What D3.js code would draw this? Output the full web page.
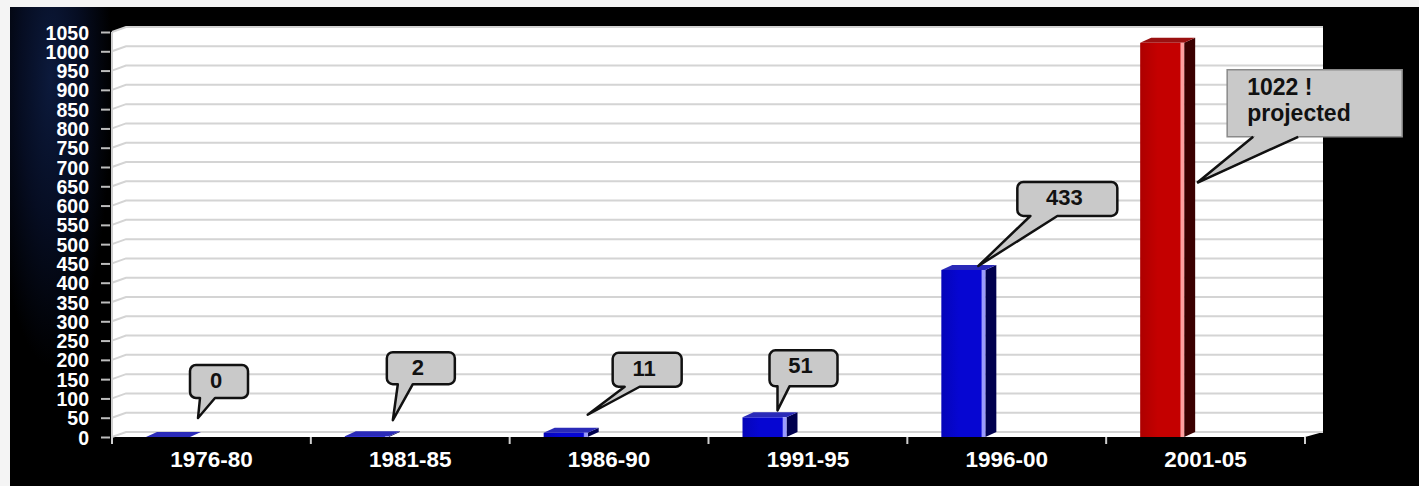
<!DOCTYPE html>
<html><head><meta charset="utf-8">
<script src="https://cdn.jsdelivr.net/npm/d3@7/dist/d3.min.js"></script>
<style>html,body{margin:0;padding:0;background:#000;}svg{display:block;}</style>
</head><body>
<svg id="chart" width="1419" height="486"></svg>
<script>
// ---- data ----
const categories = ["1976-80","1981-85","1986-90","1991-95","1996-00","2001-05"];
const values = [0, 2, 11, 51, 433, 1022];
const kinds = ["actual","actual","actual","actual","actual","projected"];
const yTickValues = [0,50,100,150,200,250,300,350,400,450,500,550,600,650,700,750,800,850,900,950,1000,1050];
const calloutTexts = [["0"],["2"],["11"],["51"],["433"],["1022 !","projected"]];

// ---- layout (annotation placement relative to each bar top) ----
const calloutLayout = [
  {tip:[30,-19],  box:[-8,-53,58,33],   tail:[10,25]},
  {tip:[26,-16],  box:[-6,-68,68,32],   tail:[11,26]},
  {tip:[22,-18],  box:[25,-62,69,34],   tail:[12,27]},
  {tip:[13,-7],   box:[-8,-60,68,36],   tail:[8,20]},
  {tip:[15,-4],   box:[39,-84,100,34],  tail:[13,40]},
  {tip:[35,140],  box:[30,-113,175,67], tail:[26,71]}
];

const svg = d3.select("#chart");
const W = 1419, H = 486;
const defs = svg.append("defs");

const x = d3.scaleBand().domain(categories).range([112, 1305]).paddingInner(0).paddingOuter(0);
const y = d3.scaleLinear().domain([0, 1050]).range([437, 32]);
const wallDx = 14, wallDy = 5;
const FONT = "Liberation Sans, Arial, sans-serif";

// background
svg.append("rect").attr("width", W).attr("height", H).attr("fill", "#000");
const lg = defs.append("radialGradient").attr("id","navy").attr("cx","40%").attr("cy","15%").attr("r","60%");
lg.append("stop").attr("offset","0%").attr("stop-color","#0c1a3c");
lg.append("stop").attr("offset","50%").attr("stop-color","#060d22");
lg.append("stop").attr("offset","100%").attr("stop-color","#000");
svg.append("rect").attr("x",10).attr("y",7).attr("width",102).attr("height",H-7).attr("fill","url(#navy)");
svg.append("rect").attr("x",0).attr("y",0).attr("width",W).attr("height",7).attr("fill","#f4f4f4");
svg.append("rect").attr("x",0).attr("y",0).attr("width",10).attr("height",H).attr("fill","#f4f4f4");

// plot walls
const x0 = x.range()[0], x1 = x.range()[1];
const yTop = y(1050), yBot = y(0);
svg.append("path").attr("fill","#fff")
  .attr("d", `M${x0},${yBot} L${x0},${yTop} L${x0+wallDx},${yTop-wallDy} L${x1+wallDx+4},${yTop-wallDy} L${x1+wallDx+4},${yBot-wallDy} L${x1},${yBot} Z`);

// gridlines
const grid = svg.append("g").attr("fill","none").attr("stroke","#d4d4d4").attr("stroke-width",2);
yTickValues.forEach(v => {
  grid.append("path").attr("d", `M${x0},${y(v)} L${x0+wallDx},${y(v)-wallDy} L${x1+wallDx+4},${y(v)-wallDy}`);
});
svg.append("line").attr("x1",x0).attr("x2",x0).attr("y1",yTop).attr("y2",yBot+7).attr("stroke","#cfcfcf").attr("stroke-width",2);

// y axis ticks and labels
const yAxis = d3.axisLeft(y).tickValues(yTickValues).tickSize(9).tickPadding(12).tickFormat(d3.format("d"));
const gy = svg.append("g").attr("transform", `translate(${x0-2},0)`).call(yAxis);
gy.select(".domain").remove();
gy.selectAll(".tick line").attr("stroke","#bdbdbd").attr("stroke-width",2);
gy.selectAll(".tick text").attr("fill","#fff").attr("font-family",FONT).attr("font-weight","bold")
  .attr("font-size",19.5).attr("dy","0.36em");

// x axis
const xAxis = d3.axisBottom(x).tickSize(0).tickPadding(0);
const gx = svg.append("g").attr("transform", `translate(0,${yBot})`).call(xAxis);
gx.select(".domain").remove();
gx.selectAll(".tick text").attr("fill","#fff").attr("font-family",FONT).attr("font-weight","bold")
  .attr("font-size",22.5).attr("dy",0).attr("y",30);
const bounds = categories.map(c => x(c)).concat([x1]);
svg.append("g").selectAll("line").data(bounds).join("line")
  .attr("x1",d=>d).attr("x2",d=>d).attr("y1",yBot).attr("y2",yBot+7)
  .attr("stroke","#cfcfcf").attr("stroke-width",2);

// bars (3D)
const barOff = 34, barW = 44, bdx = 11, bdy = 5;
const colors = {
  actual:    {front:"#0606d2", hi:"#9a9aff", side:"#00004e", top:"#2a2ab8"},
  projected: {front:"#c40000", hi:"#ffa0a0", side:"#3a0000", top:"#9a1010"}
};
const bars = svg.append("g");
categories.forEach((c, i) => {
  const v = values[i], col = colors[kinds[i]];
  const bx = x(c) + barOff, bt = y(v), bb = y(0);
  const gid = "grad" + i;
  const g = defs.append("linearGradient").attr("id", gid).attr("x1",0).attr("x2",1).attr("y1",0).attr("y2",0);
  g.append("stop").attr("offset","0%").attr("stop-color", d3.color(col.front).darker(0.35));
  g.append("stop").attr("offset","40%").attr("stop-color", col.front);
  g.append("stop").attr("offset","90%").attr("stop-color", col.front);
  g.append("stop").attr("offset","93%").attr("stop-color", col.hi);
  g.append("stop").attr("offset","100%").attr("stop-color", col.hi);
  bars.append("path").attr("fill", col.side)
    .attr("d", `M${bx+barW},${bt} L${bx+barW+bdx},${bt-bdy} L${bx+barW+bdx},${bb-bdy} L${bx+barW},${bb} Z`);
  bars.append("path").attr("fill", col.top)
    .attr("d", `M${bx},${bt} L${bx+bdx},${bt-bdy} L${bx+barW+bdx},${bt-bdy} L${bx+barW},${bt} Z`);
  if (bb - bt > 0.5) {
    bars.append("rect").attr("x", bx).attr("y", bt).attr("width", barW).attr("height", bb - bt).attr("fill", `url(#${gid})`);
  }
});

// callouts
function bubblePath(bx, by, w, h, r, t0, t1, tx, ty) {
  return `M${bx+r},${by} H${bx+w-r} A${r},${r} 0 0 1 ${bx+w},${by+r} V${by+h-r} A${r},${r} 0 0 1 ${bx+w-r},${by+h}` +
         ` H${bx+t1} L${tx},${ty} L${bx+t0},${by+h} H${bx+r} A${r},${r} 0 0 1 ${bx},${by+h-r} V${by+r} A${r},${r} 0 0 1 ${bx+r},${by} Z`;
}
const cg = svg.append("g");
categories.forEach((c, i) => {
  const L = calloutLayout[i];
  const xc = x(c) + barOff + barW / 2;
  const tx = xc + L.tip[0], ty = y(values[i]) + L.tip[1];
  const bx = tx + L.box[0], by = ty + L.box[1], bw = L.box[2], bh = L.box[3];
  const lines = calloutTexts[i];
  if (lines.length === 1) {
    cg.append("path").attr("d", bubblePath(bx, by, bw, bh, 6, L.tail[0], L.tail[1], tx, ty))
      .attr("fill","#c9c9c9").attr("stroke","#111").attr("stroke-width",2.5).attr("stroke-linejoin","round");
    cg.append("text").attr("x", bx + bw/2 - 3).attr("y", by + 23).attr("text-anchor","middle")
      .attr("font-family",FONT).attr("font-weight","bold").attr("font-size",22)
      .attr("fill","#111").text(lines[0]);
  } else {
    cg.append("path").attr("d", bubblePath(bx, by, bw, bh, 0, L.tail[0], L.tail[1], tx, ty))
      .attr("fill","#c9c9c9").attr("stroke","#8a8a8a").attr("stroke-width",1.5);
    cg.append("path").attr("d", `M${bx+L.tail[0]},${by+bh} L${tx},${ty} L${bx+L.tail[1]},${by+bh}`)
      .attr("fill","none").attr("stroke","#111").attr("stroke-width",2.5);
    const t = cg.append("text").attr("font-family",FONT).attr("font-weight","bold")
      .attr("font-size",23).attr("fill","#111");
    lines.forEach((s, k) => t.append("tspan").attr("x", bx + 20).attr("y", by + 25 + k * 26).text(s));
  }
});
</script>
</body></html>
